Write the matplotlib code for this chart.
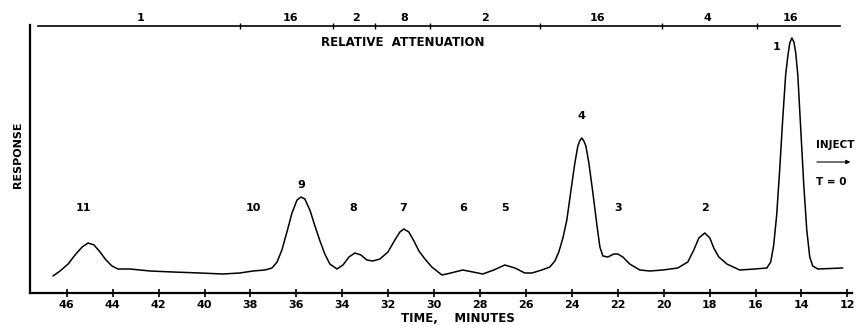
import matplotlib
matplotlib.use("Agg")
import matplotlib.pyplot as plt

# ---- data ----
time_min = [46.60, 46.29, 45.94, 45.64, 45.33, 45.07, 44.81, 44.55, 44.29, 44.03,
            43.77, 43.24, 42.37, 41.37, 40.20, 39.20, 38.46, 37.89, 37.37, 37.06,
            36.84, 36.63, 36.41, 36.19, 35.97, 35.80, 35.63, 35.41, 35.19, 34.97,
            34.76, 34.54, 34.23, 33.97, 33.71, 33.45, 33.19, 32.93, 32.67, 32.36,
            32.01, 31.71, 31.49, 31.32, 31.10, 30.88, 30.66, 30.40, 30.10, 29.66,
            29.27, 28.75, 28.31, 27.88, 27.40, 26.92, 26.48, 26.05, 25.74, 25.31,
            24.96, 24.74, 24.57, 24.39, 24.22, 24.05, 23.87, 23.74, 23.66, 23.57,
            23.48, 23.39, 23.26, 23.09, 22.91, 22.78, 22.65, 22.43, 22.17, 22.00,
            21.78, 21.48, 21.04, 20.61, 20.04, 19.39, 18.95, 18.69, 18.47, 18.21,
            17.99, 17.82, 17.60, 17.25, 16.69, 16.03, 15.51, 15.34, 15.21, 15.08,
            14.95, 14.82, 14.69, 14.60, 14.51, 14.42, 14.33, 14.25, 14.16, 14.03,
            13.90, 13.77, 13.64, 13.51, 13.29, 12.20]
response = [17, 22, 29, 38, 46, 50, 48, 41, 33, 27,
            24, 24, 22, 21, 20, 19, 20, 22, 23, 25,
            31, 43, 61, 80, 93, 96, 94, 83, 67, 52,
            39, 29, 24, 28, 36, 40, 38, 33, 32, 34,
            41, 53, 61, 64, 61, 52, 42, 34, 26, 18,
            20, 23, 21, 19, 23, 28, 25, 20, 20, 23,
            26, 32, 41, 55, 73, 101, 130, 147, 152, 155,
            152, 147, 130, 101, 68, 46, 37, 36, 39, 39,
            36, 29, 23, 22, 23, 25, 31, 43, 55, 60,
            55, 45, 36, 29, 23, 24, 25, 31, 48, 78,
            123, 173, 218, 236, 250, 255, 251, 240, 218, 163,
            108, 63, 36, 27, 24, 25]

peak_ids = ['11', '10', '9', '8', '7', '6', '5', '4', '3', '2', '1']
peak_label_t = [45.29, 37.89, 35.80, 33.53, 31.36, 28.75, 26.92, 23.57, 22.00, 18.21, 15.08]
peak_label_r = [85, 85, 108, 85, 85, 85, 85, 177, 85, 85, 246]

att_bounds = [38.46, 34.41, 32.58, 30.18, 25.39, 20.08, 15.95]
att_labels = ['1', '16', '2', '8', '2', '16', '4', '16']
att_label_t = [42.8, 36.27, 33.4, 31.3, 27.8, 22.9, 18.1, 14.5]

xticks = list(range(46, 11, -2))

# ---- plot ----
plt.rcParams['font.family'] = 'DejaVu Sans'
plt.rcParams['font.weight'] = 'bold'

fig = plt.figure(figsize=(8.57, 3.25), dpi=100)
ax = fig.add_axes([30/857, 32/325, 822/857, 268/325])

ax.plot(time_min, response, color='black', linewidth=1.1,
        solid_joinstyle='round', solid_capstyle='round')

ax.set_xlim(47.6, 11.8)
ax.set_ylim(0, 268)
ax.spines['top'].set_visible(False)
ax.spines['right'].set_visible(False)
ax.spines['left'].set_linewidth(1.6)
ax.spines['bottom'].set_linewidth(1.6)
ax.set_yticks([])
ax.set_xticks(xticks)
ax.set_xticklabels([str(t) for t in xticks], fontsize=8, fontweight='bold')
ax.tick_params(axis='x', direction='inout', length=6, width=1.2, pad=2)

# peak numbers
for name, t, r in zip(peak_ids, peak_label_t, peak_label_r):
    ax.text(t, r, name, ha='center', va='center', fontsize=8, fontweight='bold')

# relative attenuation bar along the top
ax.plot([47.25, 12.32], [267, 267], color='black', linewidth=1.2, clip_on=False)
ax.plot(att_bounds, [267] * len(att_bounds), linestyle='none', marker='|',
        markersize=5, color='black', clip_on=False)
for lab, t in zip(att_labels, att_label_t):
    ax.text(t, 275, lab, ha='center', va='center', fontsize=8, fontweight='bold', clip_on=False)
ax.text(31.35, 250, 'RELATIVE  ATTENUATION', ha='center', va='center',
        fontsize=8.5, fontweight='bold')

# injection marker
ax.text(12.55, 148, 'INJECT', ha='center', va='center', fontsize=7.5, fontweight='bold', clip_on=False)
ax.annotate('', xy=(11.75, 131), xytext=(13.45, 131),
            arrowprops=dict(arrowstyle='-|>', color='black', lw=0.8, mutation_scale=6),
            annotation_clip=False)
ax.text(13.35, 111, 'T = 0', ha='left', va='center', fontsize=7.5, fontweight='bold', clip_on=False)

fig.text(18/857, 1 - 155/325, 'RESPONSE', rotation=90, ha='center', va='center',
         fontsize=8, fontweight='bold')
fig.text(458/857, 1 - 318/325, 'TIME,    MINUTES', ha='center', va='center',
         fontsize=8.5, fontweight='bold')

fig.savefig('out.png', dpi=100)
